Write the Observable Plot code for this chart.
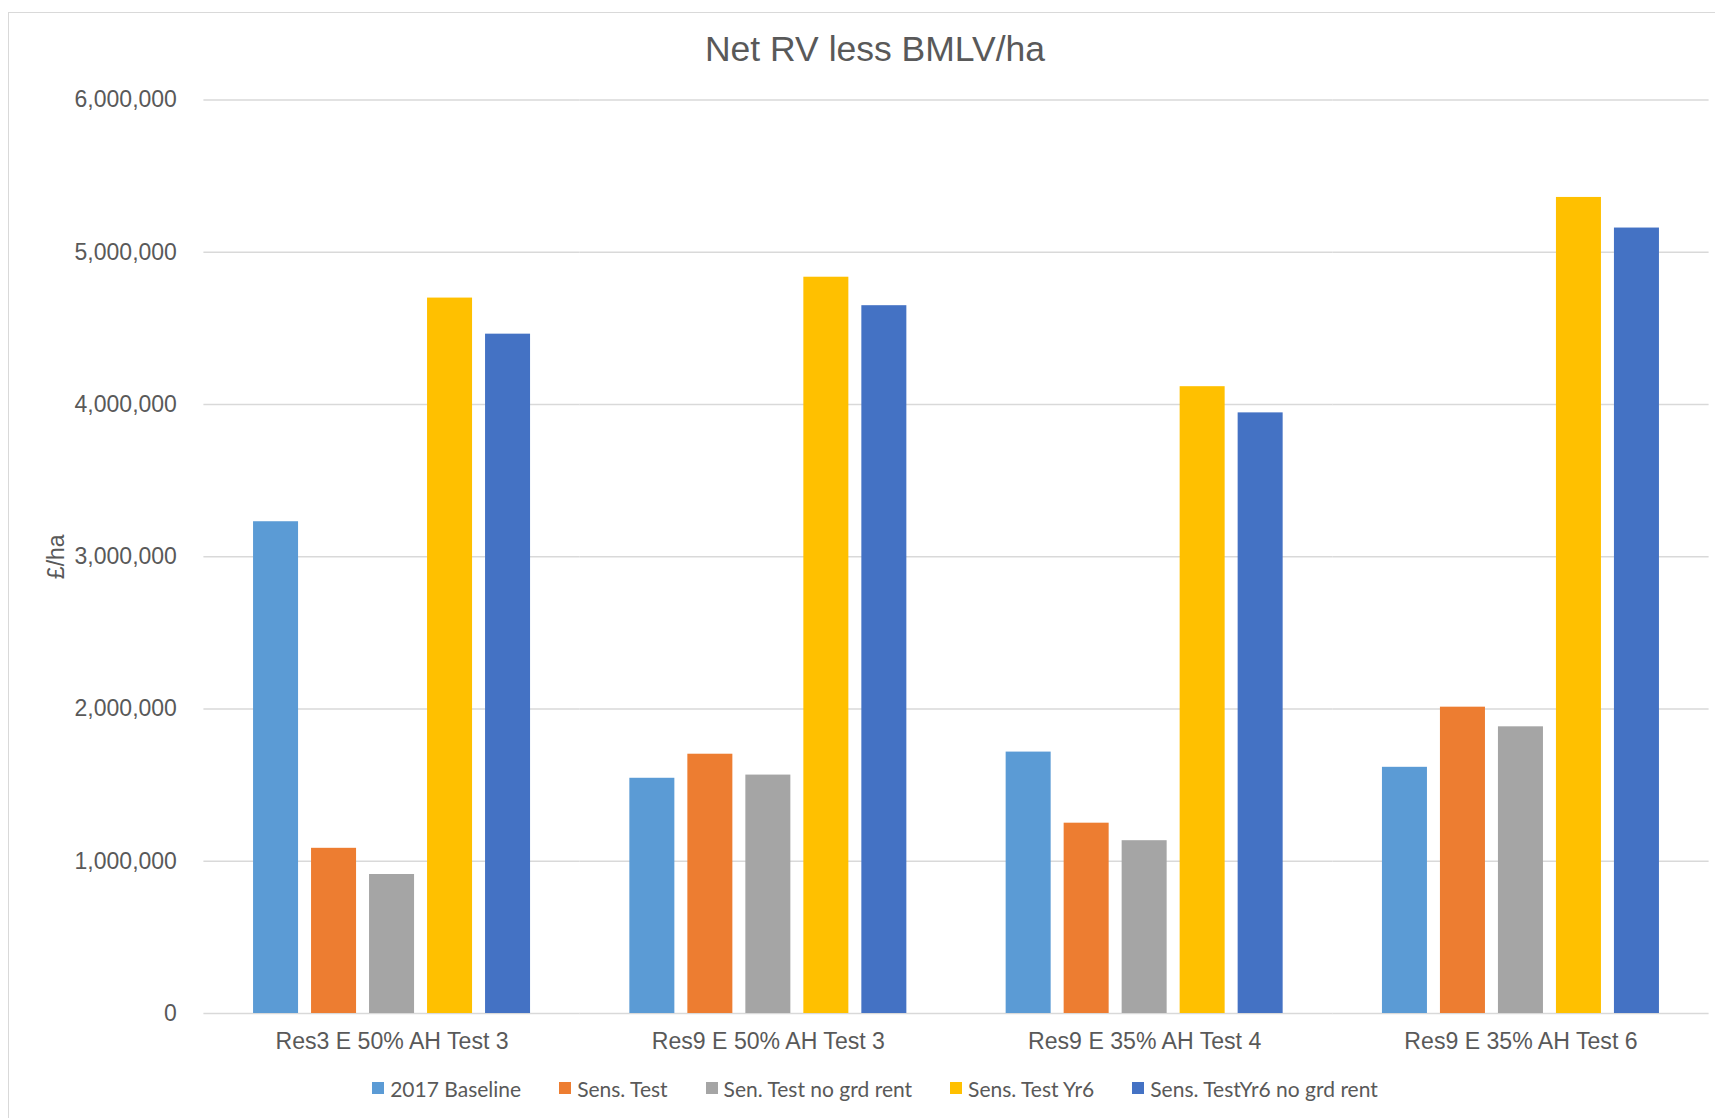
<!DOCTYPE html>
<html>
<head>
<meta charset="utf-8">
<script src="https://cdn.jsdelivr.net/npm/d3@7"></script>
<script src="https://cdn.jsdelivr.net/npm/@observablehq/plot@0.6"></script>
<style>
  html, body { margin: 0; padding: 0; background: #ffffff; }
  body { position: relative; width: 1715px; height: 1118px; overflow: hidden; font-family: "Liberation Sans", Arial, sans-serif; }
  #frame { position: absolute; left: 8px; top: 12px; width: 1740px; height: 1130px; border: 1.5px solid #d9d9d9; box-sizing: border-box; }
  #title { position: absolute; left: 8px; width: 1734px; top: 30px; text-align: center; font-size: 35.5px; line-height: 38px; color: #595959; }
  #chart { position: absolute; left: 0; top: 0; }
  #legend { position: absolute; left: 8px; width: 1734px; top: 1076px; height: 24px; display: flex; justify-content: center; align-items: center; gap: 38px; font-family: Lato, "Open Sans", sans-serif; font-size: 21px; color: #595959; }
  #legend .item { display: flex; align-items: center; white-space: nowrap; }
  #legend .sw { width: 12px; height: 12px; margin-right: 6px; display: inline-block; }
</style>
</head>
<body>
<div id="frame"></div>
<div id="chart"></div>
<div id="title">Net RV less BMLV/ha</div>
<div id="legend"></div>
<script>
// ---- Data ----
const categories = [
  "Res3 E 50% AH Test 3",
  "Res9 E 50% AH Test 3",
  "Res9 E 35% AH Test 4",
  "Res9 E 35% AH Test 6"
];
const seriesNames = [
  "2017 Baseline",
  "Sens. Test",
  "Sen. Test no grd rent",
  "Sens. Test Yr6",
  "Sens. TestYr6 no grd rent"
];
const baseline2017        = [3230000, 1545000, 1717000, 1617000];
const sensTest            = [1085000, 1703000, 1250000, 2012000];
const senTestNoGrdRent    = [ 913000, 1566000, 1135000, 1883000];
const sensTestYr6         = [4699000, 4836000, 4117000, 5360000];
const sensTestYr6NoGrdRent= [4462000, 4649000, 3945000, 5159000];
const seriesColors = ["#5B9BD5", "#ED7D31", "#A5A5A5", "#FFC000", "#4472C4"];
const yTicks = [0, 1000000, 2000000, 3000000, 4000000, 5000000, 6000000];

// ---- Build table ----
const seriesValues = [baseline2017, sensTest, senTestNoGrdRent, sensTestYr6, sensTestYr6NoGrdRent];
const data = [];
categories.forEach((c, i) => {
  seriesNames.forEach((s, j) => {
    data.push({category: c, series: s, value: seriesValues[j][i]});
  });
});

const fmt = d3.format(",");
const textColor = "#595959";

const chart = Plot.plot({
  width: 1715,
  height: 1070,
  marginLeft: 203.4,
  marginRight: 6.4,
  marginTop: 99.5,
  marginBottom: 57,
  style: { fontFamily: "'Liberation Sans', Arial, sans-serif", background: "transparent", overflow: "visible", color: textColor },
  fx: { domain: categories, padding: 0, round: false, label: null },
  x: { domain: seriesNames, axis: null, paddingInner: 0.224, paddingOuter: 0.856, round: false },
  y: { domain: [0, 6000000] },
  color: { domain: seriesNames, range: seriesColors },
  marks: [
    Plot.gridY(yTicks, { stroke: "#d9d9d9", strokeOpacity: 1, strokeWidth: 1.5 }),
    Plot.barY(data, { fx: "category", x: "series", y: "value", fill: "series" }),
    Plot.axisY(yTicks, {
      tickSize: 0, tickPadding: 27, tickFormat: fmt, fontSize: 23, fill: textColor,
      label: "£/ha", labelAnchor: "center", labelArrow: "none", labelOffset: 156
    }),
    Plot.axisFx({ anchor: "bottom", tickSize: 0, tickPadding: 19, fontSize: 23.1, fill: textColor, label: null })
  ]
});
document.getElementById("chart").appendChild(chart);

// ---- Legend ----
const legend = document.getElementById("legend");
seriesNames.forEach((s, j) => {
  const item = document.createElement("div");
  item.className = "item";
  const sw = document.createElement("span");
  sw.className = "sw";
  sw.style.background = seriesColors[j];
  const t = document.createElement("span");
  t.textContent = s;
  item.appendChild(sw);
  item.appendChild(t);
  legend.appendChild(item);
});
</script>
</body>
</html>
